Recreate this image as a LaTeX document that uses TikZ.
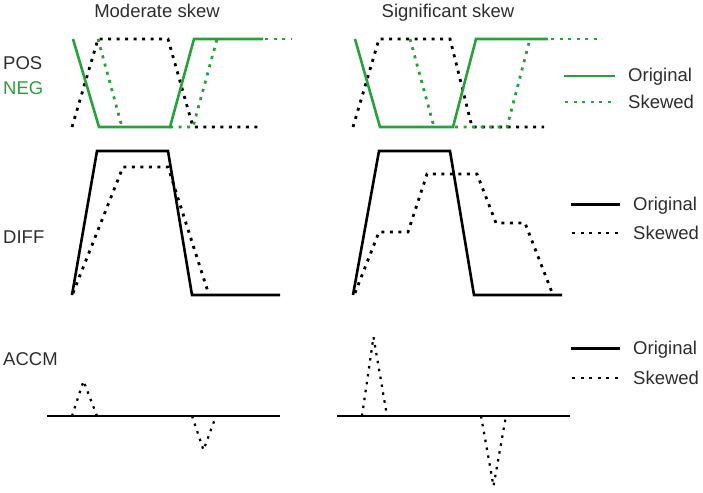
\documentclass[tikz,border=0pt]{standalone}
\usepackage{fontspec}
\setmainfont{Liberation Sans}
\definecolor{sgreen}{RGB}{40,160,60}
\definecolor{txt}{RGB}{45,45,45}
\begin{document}
\begin{tikzpicture}[x=1pt,y=-1pt,
  lbl/.style={inner sep=0pt,anchor=base west,text=txt,font=\fontsize{18.5}{22}\selectfont},
  ttl/.style={inner sep=0pt,anchor=base,text=txt,font=\fontsize{18.5}{22}\selectfont},
  orig/.style={line width=2.6pt,line join=miter},
  skew/.style={line width=2.8pt,dash pattern=on 3pt off 5.5pt},
  skewthin/.style={line width=2.2pt,dash pattern=on 2.5pt off 5.5pt}]
\useasboundingbox (0,0) rectangle (703,492);
% titles
\node[ttl] (t1) at (157,18) {Moderate skew};
\node[ttl] (t2) at (448,18) {Significant skew};
\node[lbl] (pos) at (3,70) {POS};
\node[lbl,text=sgreen] (neg) at (3,95) {NEG};
\node[lbl] (diff) at (3,243.5) {DIFF};
\node[lbl] (accm) at (3,365) {ACCM};
% ---------- POS/NEG moderate
\draw[skew,black] (72,127) -- (98,39) -- (168,39) -- (193,127) -- (262,127);
\draw[skew,sgreen] (98,39) -- (122,127);
\draw[skew,sgreen] (170,127) -- (193,127) -- (217,39);
\draw[skew,sgreen] (265,39) -- (292,39);
\draw[orig,sgreen] (73,39) -- (99,127) -- (170,127) -- (194,39) -- (263,39);
% ---------- POS/NEG significant
\draw[skew,black] (353,127) -- (379,39) -- (450,39) -- (472,127) -- (544,127);
\draw[skew,sgreen] (410,39) -- (434,127);
\draw[skew,sgreen] (455,127) -- (507,127) -- (530,39);
\draw[skew,sgreen] (551,39) -- (602,39);
\draw[orig,sgreen] (355,39) -- (380,127) -- (453,127) -- (476,39) -- (548,39);
% legend top
\coordinate (l1a) at (564,76); \coordinate (l1b) at (615,76);
\coordinate (l2a) at (565,102); \coordinate (l2b) at (616,102);
\draw[orig,sgreen] (l1a) -- (l1b);
\draw[skew,sgreen] (l2a) -- (l2b);
\node[lbl] (lo1) at (628,81.5) {Original};
\node[lbl] (ls1) at (628,108) {Skewed};
% ---------- DIFF moderate
\draw[skew,black] (73,293) -- (123,167) -- (168,167) -- (209,295);
\draw[orig,black] (72,295) -- (97,151) -- (168,151) -- (192,295) -- (280,295);
% ---------- DIFF significant
\draw[skew,black] (355,293) -- (379,232) -- (408,232) -- (427,174) -- (477,174) -- (496,223) -- (525,223) -- (553,295);
\draw[orig,black] (353,295) -- (379,151) -- (450,151) -- (474,295) -- (562,295);
% legend DIFF
\coordinate (l3a) at (571,204.5); \coordinate (l3b) at (620,204.5);
\coordinate (l4a) at (572,233); \coordinate (l4b) at (621,233);
\draw[orig,black] (l3a) -- (l3b);
\draw[skew,black] (l4a) -- (l4b);
\node[lbl] (lo2) at (633,210.5) {Original};
\node[lbl] (ls2) at (633,239) {Skewed};
% ---------- ACCM moderate
\draw[skewthin,black] (72,416) -- (83.5,381) -- (97,416);
\draw[skewthin,black] (192,416) -- (203.5,450) -- (216,416);
\draw[orig,black] (47,416) -- (280,416);
% ---------- ACCM significant
\draw[skewthin,black] (362,416) -- (373.5,337) -- (387,416);
\draw[skewthin,black] (481,416) -- (493.5,486) -- (506,416);
\draw[orig,black] (337,416) -- (570,416);
% legend ACCM
\coordinate (l5a) at (571,348.5); \coordinate (l5b) at (620,348.5);
\coordinate (l6a) at (572,378); \coordinate (l6b) at (621,378);
\draw[orig,black] (l5a) -- (l5b);
\draw[skew,black] (l6a) -- (l6b);
\node[lbl] (lo3) at (633,354.5) {Original};
\node[lbl] (ls3) at (633,384) {Skewed};
\end{tikzpicture}
\end{document}
